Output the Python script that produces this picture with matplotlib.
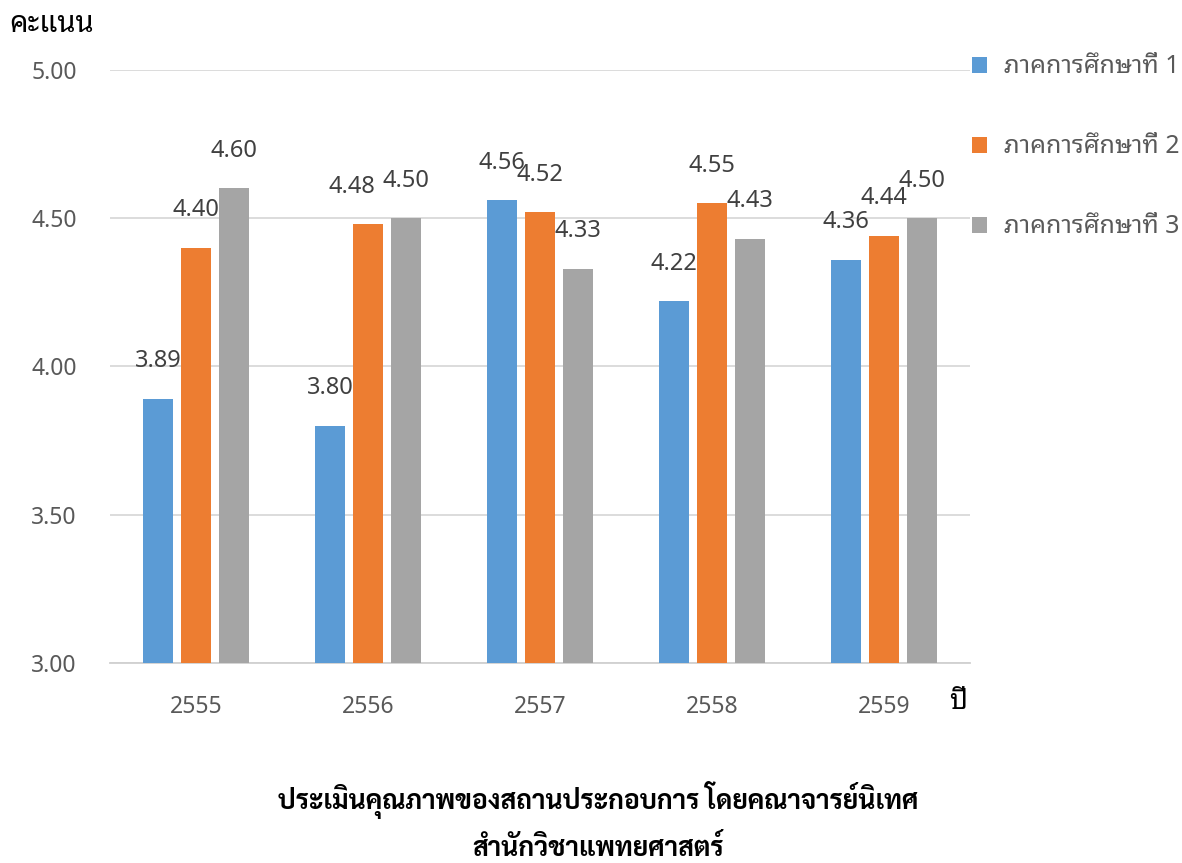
import matplotlib
matplotlib.use("Agg")
import matplotlib.pyplot as plt
import numpy as np

years = ["2555", "2556", "2557", "2558", "2559"]
term1 = [3.89, 3.80, 4.56, 4.22, 4.36]
term2 = [4.40, 4.48, 4.52, 4.55, 4.44]
term3 = [4.60, 4.50, 4.33, 4.43, 4.50]
series_names = ["ภาคการศึกษาที่ 1", "ภาคการศึกษาที่ 2", "ภาคการศึกษาที่ 3"]
colors = ["#5B9BD5", "#ED7D31", "#A5A5A5"]

THAI = ["Noto Sans Thai Looped", "Noto Sans", "DejaVu Sans"]
plt.rcParams["font.family"] = THAI

fig = plt.figure(figsize=(11.82, 8.63), dpi=100)
ax = fig.add_axes([0.093, 0.232, 0.728, 0.687])

# label nudges (series, year) -> x offset in points, as Excel moved them
nudge = {(1, 1): -12}

x = np.arange(len(years))
width = 0.174
step = 0.221
for i, (vals, name, c) in enumerate(zip([term1, term2, term3], series_names, colors)):
    pos = x + (i - 1) * step
    ax.bar(pos, np.array(vals) - 3.0, width, bottom=3.0, color=c, label=name, zorder=3)
    for j, (px, v) in enumerate(zip(pos, vals)):
        ax.annotate(f"{v:.2f}", (px, v), xytext=(nudge.get((i, j), 0), 27),
                    textcoords="offset points", ha="center", va="center",
                    fontsize=17, color="#404040")

ax.set_xlim(-0.5, 4.5)
ax.set_ylim(3.0, 5.0)
ax.set_yticks([3.0, 3.5, 4.0, 4.5, 5.0])
ax.set_yticklabels([f"{t:.2f}" for t in ax.get_yticks()])
ax.set_xticks(x)
ax.set_xticklabels(years)
ax.grid(axis="y", color="#D9D9D9", linewidth=1.3, zorder=0)
for s in ["top", "right", "left"]:
    ax.spines[s].set_visible(False)
ax.spines["bottom"].set_color("#D0D0D0")
ax.spines["bottom"].set_linewidth(1.3)
ax.tick_params(axis="both", length=0, labelsize=16.5, labelcolor="#595959")
ax.tick_params(axis="y", pad=24)
ax.tick_params(axis="x", pad=23)

fig.text(0.008, 0.972, "คะแนน", fontsize=21, color="black", va="center", ha="left")
fig.text(0.803, 0.186, "ปี", fontsize=20, color="black", va="center", ha="left")

ax.legend(loc="upper left", bbox_to_anchor=(0.803, 0.963), bbox_transform=fig.transFigure,
          frameon=False, fontsize=18, handlelength=0.6, handleheight=0.6,
          handletextpad=0.7, labelspacing=2.2, labelcolor="#595959")

fig.text(0.506, 0.073, "ประเมินคุณภาพของสถานประกอบการ โดยคณาจารย์นิเทศ",
         fontsize=19, fontweight="bold", family=["Sarabun", "DejaVu Sans"], ha="center", va="center")
fig.text(0.506, 0.017, "สำนักวิชาแพทยศาสตร์",
         fontsize=19, fontweight="bold", family=["Sarabun", "DejaVu Sans"], ha="center", va="center")

fig.savefig("out.png", dpi=100)
